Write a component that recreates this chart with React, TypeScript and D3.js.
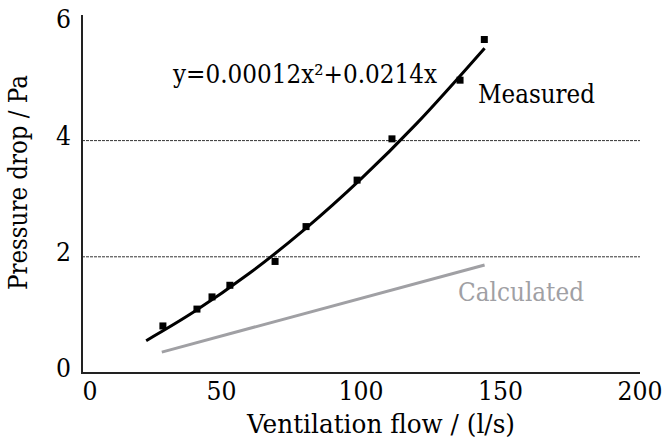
import React from "react";
import * as d3 from "d3";

const measuredX = [29.0, 41.2, 46.6, 53.0, 69.2, 80.3, 98.6, 111.1, 135.5, 144.2];
const measuredY = [0.81, 1.10, 1.31, 1.51, 1.92, 2.52, 3.32, 4.03, 5.04, 5.74];
const trendX = [23, 40, 60, 80, 100, 120, 144.3];
const trendY = [0.556, 1.048, 1.716, 2.48, 3.34, 4.296, 5.59];
const calcX = [28.6, 144.3];
const calcY = [0.36, 1.86];
const xTicks = [0, 50, 100, 150, 200];
const yTicks = [0, 2, 4, 6];
const gridValues = [2, 4];

const W = 667;
const H = 444;
const FONT = "DejaVu Serif";

export default function App() {
  const x = d3.scaleLinear().domain([0, 200]).range([82, 640]);
  const y = d3.scaleLinear().domain([0, 6]).range([373, 24.4]);

  const trendPts: [number, number][] = trendX.map((v, i) => [v, trendY[i]]);
  const calcPts: [number, number][] = calcX.map((v, i) => [v, calcY[i]]);

  const trendLine = d3
    .line<[number, number]>()
    .x((d) => x(d[0]))
    .y((d) => y(d[1]))
    .curve(d3.curveCatmullRom)(trendPts) as string;
  const calcLine = d3
    .line<[number, number]>()
    .x((d) => x(d[0]))
    .y((d) => y(d[1]))(calcPts) as string;

  const ms = 7;
  const ts: React.CSSProperties = { fontFamily: FONT, fontSize: 26 };
  const adj = "spacingAndGlyphs";

  return (
    <svg
      width={W}
      height={H}
      style={{ position: "absolute", left: 0, top: 0, display: "block", background: "#fff" }}
    >
      {gridValues.map((g) => (
        <line key={g} x1={x(0)} x2={x(200)} y1={y(g)} y2={y(g)} stroke="#333" strokeWidth={1} strokeDasharray="3,1" />
      ))}
      <line x1={x(0)} x2={x(0)} y1={15} y2={y(0) + 1} stroke="#222" strokeWidth={2} />
      <line x1={x(0) - 1} x2={x(200)} y1={y(0)} y2={y(0)} stroke="#222" strokeWidth={2} />

      {yTicks.map((t) => (
        <text key={t} x={71} y={y(t) + 4} textAnchor="end" style={ts} fill="#000"
          textLength={String(t).length * 15} lengthAdjust={adj}>{t}</text>
      ))}
      {xTicks.map((t) => (
        <text key={t} x={x(t) + (t === 0 ? 8 : 0)} y={400} textAnchor="middle" style={ts} fill="#000"
          textLength={String(t).length * 15} lengthAdjust={adj}>{t}</text>
      ))}

      <text x={247} y={433} style={ts} fill="#000" textLength={268} lengthAdjust={adj}>
        Ventilation flow / (l/s)
      </text>
      <text transform={`translate(27,290) rotate(-90)`} style={ts} fill="#000" textLength={215} lengthAdjust={adj}>
        Pressure drop / Pa
      </text>

      <path d={calcLine} fill="none" stroke="#a0a0a4" strokeWidth={3} />
      <path d={trendLine} fill="none" stroke="#000" strokeWidth={3} />
      {measuredX.map((v, i) => (
        <rect key={i} x={x(v) - ms / 2} y={y(measuredY[i]) - ms / 2} width={ms} height={ms} fill="#000" />
      ))}

      <text x={173} y={83} style={ts} fill="#000" textLength={264} lengthAdjust={adj}>
        y=0.00012x²+0.0214x
      </text>
      <text x={478} y={103} style={ts} fill="#000" textLength={117} lengthAdjust={adj}>
        Measured
      </text>
      <text x={458} y={301} style={ts} fill="#a0a0a4" textLength={126} lengthAdjust={adj}>
        Calculated
      </text>
    </svg>
  );
}
